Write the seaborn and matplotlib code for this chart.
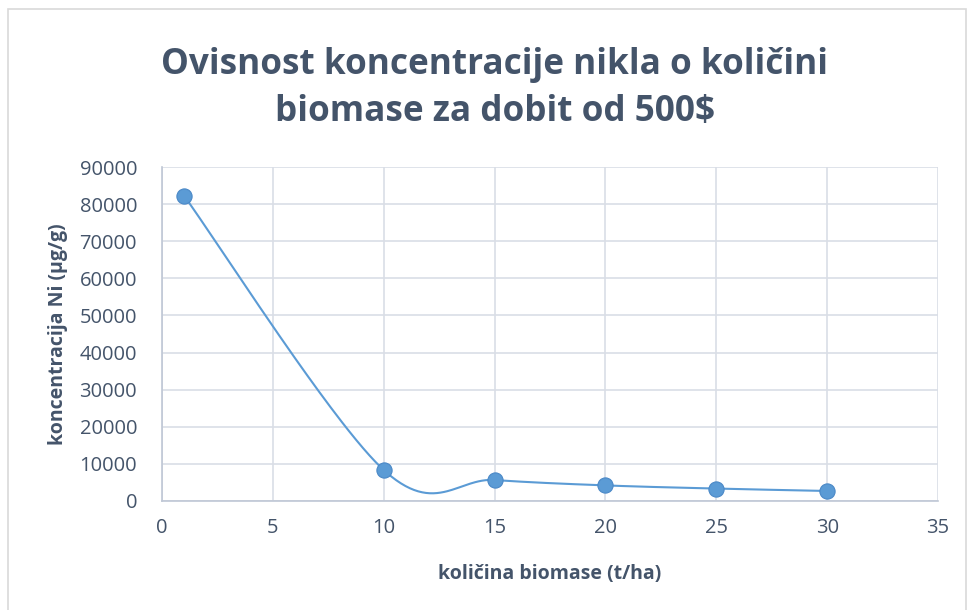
import numpy as np
import pandas as pd
import matplotlib
matplotlib.use("Agg")
import matplotlib.pyplot as plt
import seaborn as sns
from matplotlib.patches import Rectangle

# podaci ocitani s grafa
kolicina_biomase = [1, 10, 15, 20, 25, 30]
koncentracija_ni = [82200, 8350, 5650, 4200, 3350, 2700]

x_ticks = [0, 5, 10, 15, 20, 25, 30, 35]
y_ticks = [0, 10000, 20000, 30000, 40000, 50000, 60000, 70000, 80000, 90000]

naslov = "Ovisnost koncentracije nikla o količini\nbiomase za dobit od 500$"
x_naziv = "količina biomase (t/ha)"
y_naziv = "koncentracija Ni (µg/g)"

BOJA_LINIJE = "#5B9BD5"
BOJA_TEKSTA = "#44546A"
BOJA_MREZE = "#D9DEE6"


def glatka_linija(xs, ys, n=60):
    '''Excel-style smoothed line (Catmull-Rom as cubic Bezier).'''
    p = np.column_stack([xs, ys]).astype(float)
    ext = np.vstack([p[0], p, p[-1]])
    t = np.linspace(0, 1, n)[:, None]
    dijelovi = []
    for i in range(len(p) - 1):
        p0, p1, p2, p3 = ext[i], ext[i + 1], ext[i + 2], ext[i + 3]
        c1 = p1 + (p2 - p0) / 6
        c2 = p2 - (p3 - p1) / 6
        seg = ((1 - t) ** 3) * p1 + 3 * ((1 - t) ** 2) * t * c1 \
            + 3 * (1 - t) * t ** 2 * c2 + t ** 3 * p2
        dijelovi.append(seg)
    krivulja = np.vstack(dijelovi)
    return krivulja[:, 0], krivulja[:, 1]


sns.set_theme(style="white")
plt.rcParams['font.family'] = ['Open Sans', 'DejaVu Sans']

df = pd.DataFrame({"x": kolicina_biomase, "y": koncentracija_ni})

fig = plt.figure(figsize=(9.68, 6.1), dpi=100)
ax = fig.add_axes([0.1674, 0.1787, 0.969 - 0.1674, 0.7262 - 0.1787])

gx, gy = glatka_linija(df["x"], df["y"])
ax.plot(gx, gy, color=BOJA_LINIJE, lw=1.5, zorder=2)
sns.scatterplot(data=df, x="x", y="y", ax=ax, color=BOJA_LINIJE, s=120,
                edgecolor="#4A88C7", linewidth=0.8, zorder=3, legend=False)

ax.set_xlim(0, 35)
ax.set_ylim(0, 90000)
ax.set_xticks(x_ticks)
ax.set_yticks(y_ticks)
ax.grid(True, color=BOJA_MREZE, lw=1.2)
ax.set_axisbelow(True)
for s in ["top", "right"]:
    ax.spines[s].set_visible(False)
for s in ["left", "bottom"]:
    ax.spines[s].set_color("#BFC7D5")
    ax.spines[s].set_linewidth(1.2)
ax.tick_params(axis="x", length=0, labelsize=14.5, colors=BOJA_TEKSTA, pad=12)
ax.tick_params(axis="y", length=0, labelsize=14.5, colors=BOJA_TEKSTA, pad=18)

ax.set_xlabel(x_naziv, fontsize=14, fontweight="bold", color=BOJA_TEKSTA, labelpad=19)
ax.set_ylabel(y_naziv, fontsize=14, fontweight="bold", color=BOJA_TEKSTA, labelpad=8)

fig.text(0.511, 0.855, naslov, ha="center", va="center", fontsize=25.3,
         fontweight="bold", color=BOJA_TEKSTA, linespacing=1.38)

fig.patches.append(Rectangle((0.008, -0.01), 0.99, 0.995, transform=fig.transFigure,
                             fill=False, edgecolor="#D9D9D9", lw=1.2))

fig.savefig("out.png", dpi=100, facecolor="white")
